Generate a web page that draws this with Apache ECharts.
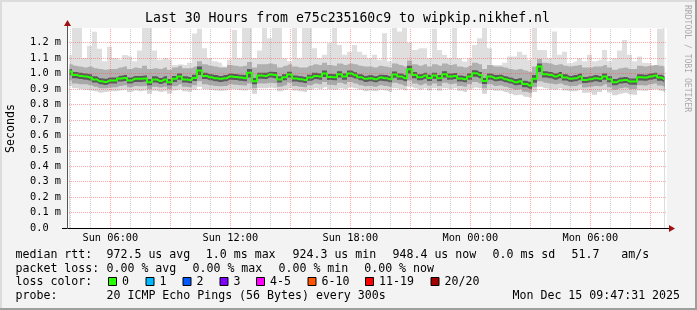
<!DOCTYPE html>
<html><head><meta charset="utf-8">
<script src="https://cdn.jsdelivr.net/npm/echarts@6/dist/echarts.min.js"></script>
<style>html,body{margin:0;padding:0;background:#f3f3f3}#c{width:697px;height:310px}</style>
</head><body><div id="c"></div><script>
// ---- data (microseconds), one sample every 15 minutes starting Sun 03:50 ----
const START_HOUR = 3 + 50 / 60;
const STEP_HOURS = 0.25;
const med = [
1013,991,985,981,975,962,950,946,955,955,968,972,955,966,966,968,944,962,952,962,
944,966,981,962,959,972,1020,985,976,970,966,970,981,978,974,970,1005,950,987,985,
994,991,962,976,994,968,963,959,974,985,981,1000,978,976,996,981,1000,989,976,966,
970,963,974,970,963,994,981,970,1028,991,976,987,972,987,970,996,981,985,968,963,
981,1002,991,952,981,970,974,963,955,944,950,933,922,966,1045,996,991,981,991,975,
966,970,981,959,963,970,966,981,963,944,955,959,948,948,976,974,981,987,974,962];
const maxV = [
1120,1300,1300,1100,1180,1270,1160,1080,1173,1100,1090,1120,1110,1080,1150,1300,1300,1150,1090,1100,
1090,1056,1060,1056,1070,1260,1290,1164,1100,1080,1070,1045,1090,1282,1100,1300,1300,1100,1150,1300,
1228,1300,1300,1099,1080,1300,1099,1300,1300,1164,1100,1121,1196,1300,1185,1121,1142,1185,1142,1121,
1099,1121,1090,1261,1080,1300,1272,1300,1200,1153,1164,1164,1100,1290,1153,1121,1100,1300,1099,1078,
1099,1185,1228,1300,1164,1056,1056,1070,1110,1110,1142,1121,1090,1300,1153,1153,1099,1272,1121,1142,
1067,1078,1099,1080,1121,1080,1090,1153,1080,1099,1150,1218,1121,1080,1110,1070,1067,1030,1290,1300];
const hi = [
1060,1050,1045,1040,1045,1035,1030,1025,1030,1030,1040,1045,1030,1040,1035,1050,1030,1035,1030,1040,
1025,1040,1050,1035,1035,1045,1080,1060,1050,1045,1040,1040,1055,1050,1045,1050,1075,1040,1060,1060,
1065,1060,1040,1050,1060,1045,1040,1040,1050,1060,1055,1070,1055,1050,1065,1055,1065,1060,1050,1045,
1045,1040,1050,1045,1040,1065,1055,1045,1085,1060,1050,1060,1045,1060,1050,1065,1055,1060,1045,1040,
1050,1070,1060,1030,1055,1045,1045,1040,1030,1025,1030,1020,1010,1045,1095,1070,1065,1055,1060,1050,
1045,1050,1055,1040,1040,1045,1045,1055,1040,1025,1035,1040,1030,1030,1050,1045,1050,1055,1050,1045];
const up = [
1030,1010,1005,1000,995,982,970,966,975,975,986,990,975,985,985,988,965,982,972,982,
965,985,1000,982,978,992,1045,1005,995,990,985,990,1000,997,993,990,1030,972,1005,1005,
1012,1010,982,995,1012,988,982,978,992,1005,1000,1020,997,995,1015,1000,1020,1008,995,985,
990,982,993,990,982,1013,1000,990,1050,1010,995,1006,992,1006,990,1015,1000,1004,988,982,
1000,1022,1010,972,1000,990,993,982,975,964,970,953,945,990,1065,1015,1010,1000,1010,995,
985,990,1000,978,982,990,985,1000,982,964,975,978,968,968,995,993,1000,1006,993,982];
const dn = [
990,970,965,960,955,942,930,926,935,935,948,952,935,946,946,948,924,942,932,942,
924,946,960,942,938,952,990,965,956,950,946,950,960,958,954,950,975,930,966,965,
974,970,942,956,974,948,943,939,954,965,960,978,958,956,975,960,978,968,956,946,
950,943,954,950,943,973,960,950,1000,970,956,966,952,966,950,975,960,965,948,943,
960,980,970,932,960,950,954,943,935,924,928,912,902,940,1010,975,970,960,970,955,
946,950,960,939,943,950,946,960,943,924,935,939,928,928,955,953,960,966,953,942];
const lo = [
955,935,930,930,925,915,905,905,910,912,920,925,912,920,918,920,900,915,910,915,
900,918,930,915,912,925,950,930,925,920,918,920,930,928,925,922,935,905,935,935,
940,938,915,925,940,920,915,912,925,935,930,945,928,925,940,930,945,935,925,918,
920,915,925,920,915,940,930,920,955,935,925,935,922,935,920,940,930,935,920,915,
930,945,935,905,930,920,922,915,905,895,898,882,875,912,950,940,935,930,935,925,
918,920,930,910,915,920,918,930,912,895,905,910,900,900,925,922,930,935,922,915];
const minV = [
920,905,900,895,890,885,875,880,885,885,890,895,880,890,885,890,870,888,880,885,
870,890,900,885,880,895,915,900,895,890,888,890,900,898,892,890,900,870,905,905,
910,905,885,895,905,890,885,880,895,905,900,912,898,895,905,900,912,905,895,885,
890,885,895,890,880,905,900,890,915,905,895,905,890,905,888,905,900,905,888,880,
900,910,905,870,895,888,890,880,870,860,862,850,845,880,915,905,900,895,905,890,
885,885,895,875,878,862,880,895,878,860,870,875,865,862,890,888,895,900,888,880];

// axes / grid
const minorHours = [4,5,7,8,10,11,13,14,16,17,19,20,22,23,25,26,28,29,31,32];
const majorHours = [6,9,12,15,18,21,24,27,30,33];
const labelHours = [6,12,18,24,30];
const labelText = ['Sun 06:00','Sun 12:00','Sun 18:00','Mon 00:00','Mon 06:00'];
const yGrid = [100,200,300,400,500,600,700,800,900,1000,1100,1200];

// legend texts
const legendRow1 = ['median rtt:','972.5 us avg','1.0 ms max','924.3 us min','948.4 us now','0.0 ms sd','51.7','am/s'];
const legendRow2 = ['packet loss:','0.00 % avg','0.00 % max','0.00 % min','0.00 % now'];
const lossLabels = ['0','1','2','3','4-5','6-10','11-19','20/20'];
const lossColors = ['#26ff00','#00b8ff','#0059ff','#7e00ff','#ff00ff','#ff5500','#ff0000','#a10000'];
const probeRow = ['probe:','20 ICMP Echo Pings (56 Bytes) every 300s'];
const dateText = 'Mon Dec 15 09:47:31 2025';
const titleText = 'Last 30 Hours from e75c235160c9 to wipkip.nikhef.nl';

const MONO = "'DejaVu Sans Mono', monospace";
const FONT = '11.6px ' + MONO;
const times = med.map((_, i) => START_HOUR + (i + 0.5) * STEP_HOURS);
const pair = arr => arr.map((v, i) => [times[i], v]);
function band(name, arr, color) {
  return {type:'line', name, data:pair(arr), step:'middle', symbol:'none', silent:true,
    lineStyle:{width:0, opacity:0}, areaStyle:{color, opacity:1, origin:'start'}, z:2};
}
const gridItems = [];
minorHours.forEach(h => gridItems.push({xAxis:h, lineStyle:{color:'rgba(150,150,150,0.45)', type:[1,1], width:1}}));
yGrid.forEach(v => gridItems.push({yAxis:v, lineStyle:{color:'rgba(255,80,80,0.5)', type:[1,1], width:1}}));
majorHours.forEach(h => gridItems.push({xAxis:h, lineStyle:{color:'rgba(255,80,80,0.5)', type:[1,1], width:1}}));

// layout (pixel positions of legend pieces)
const row1X = [15.5, 106.5, 205.8, 292.5, 392.5, 492.5, 571.5, 621.3];
const row2X = [15.5, 106.5, 192.5, 278.5, 364.2];
const probeX = [15.5, 106.5];
const boxX = [108, 145.5, 182.5, 219.5, 256, 307.5, 365, 430.5];
const txt = (text, x, y, extra) => Object.assign({type:'text', x, y, silent:true,
  style:Object.assign({text, font:FONT, fill:'#000', verticalAlign:'middle'}, extra || {})});

const graphic = [
  {type:'rect', shape:{x:0,y:0,width:697,height:2}, style:{fill:'#dcdcdc'}, silent:true},
  {type:'rect', shape:{x:0,y:0,width:2,height:310}, style:{fill:'#dcdcdc'}, silent:true},
  {type:'rect', shape:{x:0,y:308,width:697,height:2}, style:{fill:'#9e9e9e'}, silent:true},
  {type:'rect', shape:{x:695,y:0,width:2,height:310}, style:{fill:'#9e9e9e'}, silent:true},
  {type:'line', shape:{x1:62,y1:228.5,x2:670,y2:228.5}, style:{stroke:'#000',lineWidth:1}, z:20, silent:true},
  {type:'line', shape:{x1:67.5,y1:24,x2:67.5,y2:229}, style:{stroke:'#555',lineWidth:1}, z:20, silent:true},
  {type:'polygon', shape:{points:[[64,26],[71,26],[67.5,20]]}, style:{fill:'#a01010'}, z:21, silent:true},
  {type:'polygon', shape:{points:[[669,225],[669,232],[675,228.5]]}, style:{fill:'#a01010'}, z:21, silent:true},
  txt(titleText, 347.5, 18.5, {font:'13.2px ' + MONO, align:'center'}),
  Object.assign(txt('Seconds', 10.5, 128.5, {align:'center'}), {rotation:Math.PI/2}),
  Object.assign(txt('RRDTOOL / TOBI OETIKER', 687, 58.5, {font:'8.1px ' + MONO, fill:'#aaaaaa', align:'center'}), {rotation:-Math.PI/2}),
  txt('loss color:', 15.5, 282),
  txt(dateText, 512.5, 295.5)
];
legendRow1.forEach((t, k) => graphic.push(txt(t, row1X[k], 255)));
legendRow2.forEach((t, k) => graphic.push(txt(t, row2X[k], 268.5)));
probeRow.forEach((t, k) => graphic.push(txt(t, probeX[k], 295.5)));
lossLabels.forEach((lab, k) => {
  graphic.push({type:'rect', shape:{x:boxX[k]+0.5, y:277.5, width:8, height:8}, style:{fill:lossColors[k], stroke:'#000', lineWidth:1}, silent:true});
  graphic.push(txt(lab, boxX[k]+14, 282));
});

const chart = echarts.init(document.getElementById('c'), null, {renderer:'canvas'});
chart.setOption({
  animation:false,
  backgroundColor:'#f3f3f3',
  grid:{left:67, top:28, width:600, height:200, show:true, backgroundColor:'#ffffff', borderWidth:0},
  xAxis:{type:'value', min:START_HOUR, max:START_HOUR+30,
    splitLine:{show:false}, axisTick:{show:false}, axisLine:{show:false},
    axisLabel:{customValues:labelHours, formatter:v => labelText[labelHours.indexOf(Math.round(v))] || '',
      fontFamily:MONO, fontSize:10.3, color:'#000', margin:5}},
  yAxis:{type:'value', min:0, max:1295, interval:100,
    splitLine:{show:false}, axisTick:{show:false}, axisLine:{show:false},
    axisLabel:{showMaxLabel:false, align:'left', margin:37, fontFamily:MONO, fontSize:10.3, color:'#000',
      formatter:v => v === 0 ? '0.0' : (v/1000).toFixed(1) + ' m'}},
  series:[
    band('max', maxV, '#dfdfdf'),
    band('p90', hi, '#b0b0b0'),
    band('p75', up, '#5a5a5a'),
    band('p25', dn, '#a8a8a8'),
    band('p10', lo, '#d6d6d6'),
    band('min', minV, '#ffffff'),
    {type:'line', name:'median', data:pair(med), step:'middle', symbol:'none', silent:true, z:10,
      lineStyle:{color:'#26ff00', width:2},
      markLine:{silent:true, symbol:'none', label:{show:false}, animation:false, emphasis:{disabled:true}, data:gridItems}}
  ],
  graphic
});
</script></body></html>
